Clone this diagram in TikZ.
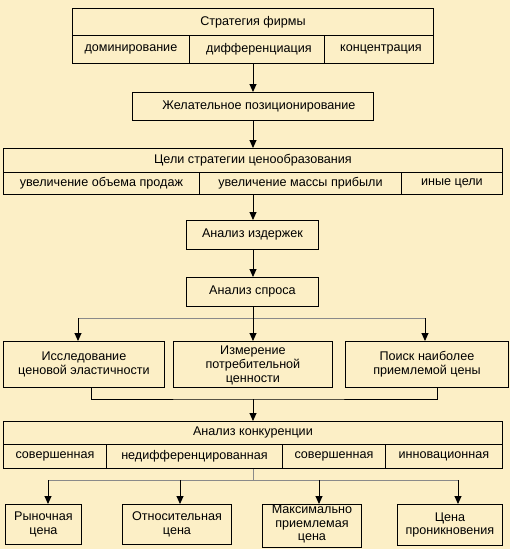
\documentclass[tikz,border=0pt]{standalone}
\usepackage{fontspec}
\setmainfont{Liberation Sans}
\usetikzlibrary{arrows.meta}
\definecolor{bgcol}{HTML}{FCEFC6}
\definecolor{linkgray}{HTML}{8A8A8A}
\tikzset{
  cell/.style={draw=black, line width=0.9pt, inner sep=0pt, anchor=north west},
  txt/.style={inner sep=0pt, font=\fontsize{12.6}{13.8}\selectfont, align=center},
  arr/.style={line width=0.9pt, -{Triangle[length=8pt,width=7pt]}},
  feed/.style={line width=0.9pt},
  glink/.style={draw=linkgray, line width=1pt},
}
\newcommand{\cellbox}[5]{% name, x1, y1, x2, y2
  \node[cell, minimum width=#4pt-#2pt, minimum height=#5pt-#3pt] (#1) at (#2,#3) {};}
\begin{document}
\begin{tikzpicture}[x=1pt,y=-1pt]
\fill[bgcol] (0,0) rectangle (510,549);
\useasboundingbox (0,0) rectangle (510,549);

% Strategy
\cellbox{sh}{72}{8}{433}{35}
\cellbox{s1}{72}{35}{189}{63}
\cellbox{s2}{189}{35}{324}{63}
\cellbox{s3}{324}{35}{433}{63}
\node[txt] at (sh.center) {Стратегия фирмы};
\node[txt] at (s1.center) {доминирование};
\node[txt] at ([xshift=2pt]s2.center) {дифференциация};
\node[txt] at ([xshift=2pt]s3.center) {концентрация};

% Desired positioning
\cellbox{pos}{132}{92}{373}{120}
\node[txt] at ([xshift=6pt]pos.center) {Желательное позиционирование};

% Pricing goals
\cellbox{gh}{3}{148}{502}{172}
\cellbox{g1}{3}{172}{199}{194}
\cellbox{g2}{199}{172}{401}{194}
\cellbox{g3}{401}{172}{502}{194}
\node[txt] at (gh.center) {Цели стратегии ценообразования};
\node[txt] at (g1.center) {увеличение объема продаж};
\node[txt] at (g2.center) {увеличение массы прибыли};
\node[txt] at (g3.center) {иные цели};

% Costs, demand
\cellbox{cost}{186}{220}{318}{249}
\node[txt] at (cost.center) {Анализ издержек};
\cellbox{dem}{186}{277}{318}{306}
\node[txt] at (dem.center) {Анализ спроса};

% Three analyses
\cellbox{el}{3}{341}{164}{387}
\cellbox{val}{173}{341}{332}{387}
\cellbox{acc}{345}{341}{508}{387}
\node[txt] at (el.center) {Исследование\\ценовой эластичности};
\node[txt] at ([yshift=-1pt]val.center) {Измерение\\потребительной\\ценности};
\node[txt] at (acc.center) {Поиск наиболее\\приемлемой цены};

% Competition
\cellbox{ch}{3}{421}{502}{444}
\cellbox{c1}{3}{444}{106}{468}
\cellbox{c2}{106}{444}{282}{468}
\cellbox{c3}{282}{444}{385}{468}
\cellbox{c4}{385}{444}{502}{468}
\node[txt] at (ch.center) {Анализ конкуренции};
\node[txt] at (c1.center) {совершенная};
\node[txt] at (c2.center) {недифференцированная};
\node[txt] at (c3.center) {совершенная};
\node[txt] at (c4.center) {инновационная};

% Prices
\cellbox{p1}{5}{504}{81}{544}
\cellbox{p2}{122}{504}{231}{544}
\cellbox{p3}{262}{504}{361}{547}
\cellbox{p4}{397}{504}{502}{545}
\node[txt] at (p1.center) {Рыночная\\цена};
\node[txt] at (p2.center) {Относительная\\цена};
\node[txt] at ([yshift=2pt]p3.center) {Максимально\\приемлемая\\цена};
\node[txt] at (p4.center) {Цена\\проникновения};

% Connectors
\coordinate (j1) at (253,318);
\coordinate (j2) at (253,399);
\coordinate (j3) at (253,480);
\draw[arr] (s2.south -| j1) -- (pos.north -| j1);
\draw[arr] (pos.south -| j1) -- (gh.north -| j1);
\draw[arr] (g2.south -| j1) -- (cost.north -| j1);
\draw[arr] (cost.south -| j1) -- (dem.north -| j1);

\draw[feed] (dem.south -| j1) -- (j1);
\draw[glink] (78,318) -- (425,318);
\draw[arr] (j1) -- (val.north -| j1);
\draw[arr] (78,318) -- (el.north -| 78,0);
\draw[arr] (425,318) -- (acc.north -| 425,0);

\draw[feed] (el.south -| 91,0) |- (j2) -| (acc.south -| 437,0);
\draw[arr] (j2) -- (ch.north -| j2);

\draw[glink] (c2.south -| j3) -- (j3);
\draw[glink] (48,480) -- (458,480);
\draw[arr] (48,480) -- (p1.north -| 48,0);
\draw[arr] (180,480) -- (p2.north -| 180,0);
\draw[arr] (319,480) -- (p3.north -| 319,0);
\draw[arr] (458,480) -- (p4.north -| 458,0);
\end{tikzpicture}
\end{document}
